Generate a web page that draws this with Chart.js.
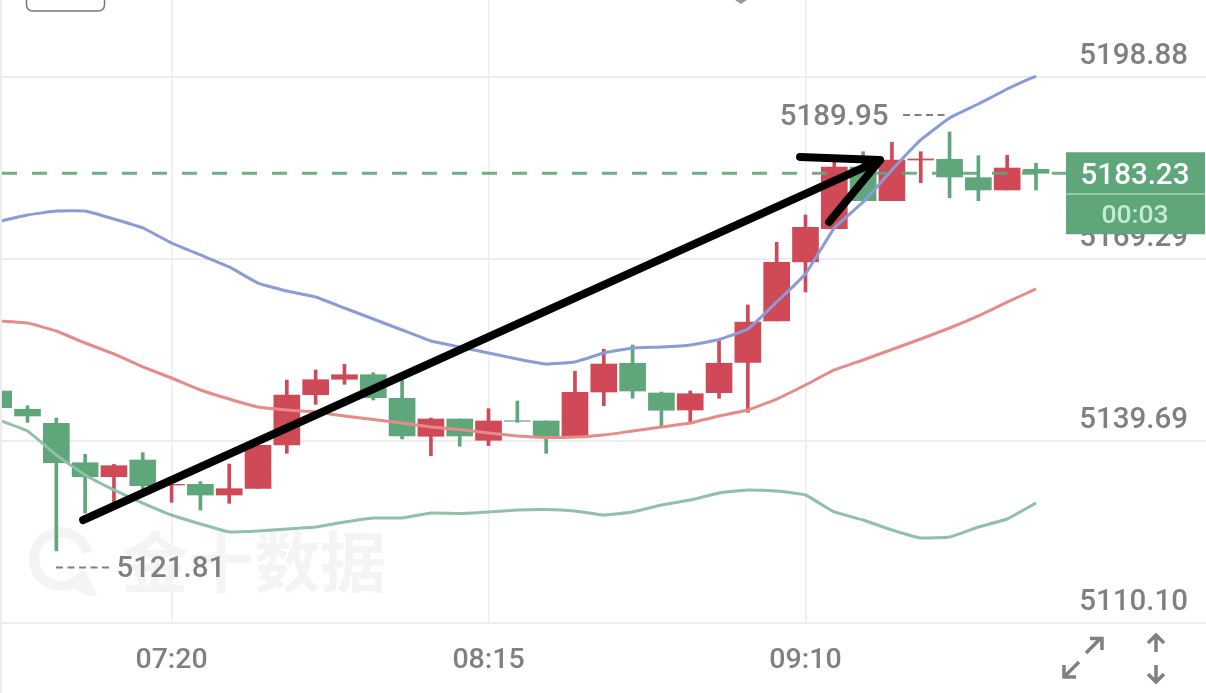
<!DOCTYPE html>
<html><head><meta charset="utf-8">
<style>html,body{margin:0;padding:0;background:#fff}canvas{display:block}</style>
<script src="https://cdn.jsdelivr.net/npm/chart.js@4"></script>
</head><body><canvas id="c" width="1206" height="693"></canvas>
<script>
const times=["06:50","06:55","07:00","07:05","07:10","07:15","07:20","07:25","07:30","07:35","07:40","07:45","07:50","07:55","08:00","08:05","08:10","08:15","08:20","08:25","08:30","08:35","08:40","08:45","08:50","08:55","09:00","09:05","09:10","09:15","09:20","09:25","09:30","09:35","09:40","09:45","09:50"];
const highs=[5147.82,5145.43,5143.43,5137.53,5135.91,5137.79,5133.35,5133.08,5135.95,5138.99,5149.61,5151.24,5152.16,5150.80,5149.61,5143.43,5143.27,5144.95,5146.20,5142.95,5151.03,5154.60,5155.30,5147.66,5147.82,5156.23,5161.81,5172.00,5176.44,5185.11,5186.73,5188.26,5186.73,5189.95,5186.08,5186.15,5184.85];
const lows=[5145.11,5142.73,5121.81,5127.99,5129.56,5131.73,5129.73,5128.47,5129.56,5132.00,5137.69,5145.66,5148.91,5146.36,5140.02,5137.30,5138.83,5138.93,5142.73,5137.69,5140.51,5145.43,5146.64,5142.02,5142.57,5146.64,5144.36,5159.21,5163.92,5174.21,5178.77,5178.77,5181.69,5179.25,5178.77,5180.51,5180.51];
const opens=[5147.82,5144.85,5142.57,5136.16,5133.89,5136.60,5132.54,5132.65,5130.91,5132.00,5139.04,5147.22,5149.73,5150.47,5146.64,5140.46,5143.27,5139.81,5142.99,5142.95,5140.51,5147.66,5152.33,5147.50,5144.73,5147.55,5152.49,5159.21,5168.80,5174.21,5184.25,5178.77,5185.38,5185.50,5182.51,5180.51,5183.87];
const closes=[5145.11,5143.76,5136.16,5133.89,5135.68,5132.43,5132.65,5130.91,5131.94,5138.99,5147.17,5149.66,5150.47,5146.73,5140.51,5143.27,5140.51,5142.95,5142.90,5140.29,5147.61,5152.21,5147.82,5144.69,5147.38,5152.33,5159.04,5168.75,5174.44,5184.25,5178.77,5185.38,5185.55,5182.62,5180.51,5184.08,5183.23];
const upperBand=[5175.38,5176.44,5177.09,5177.09,5175.79,5174.33,5171.89,5169.94,5167.99,5165.38,5164.08,5163.11,5161.32,5159.53,5157.74,5155.95,5154.98,5154.00,5153.03,5152.21,5152.54,5154.00,5154.82,5154.98,5155.30,5156.20,5157.90,5162.29,5166.85,5174.33,5178.55,5183.76,5188.64,5192.21,5194.49,5196.93,5199.04];
const middleBand=[5159.21,5158.88,5157.58,5155.63,5153.84,5151.73,5149.94,5147.99,5146.52,5145.22,5144.73,5144.41,5143.76,5143.19,5142.62,5141.97,5141.56,5140.99,5140.51,5140.26,5140.34,5140.67,5141.32,5141.97,5142.62,5143.76,5144.73,5146.52,5148.80,5151.24,5152.86,5154.57,5156.28,5158.07,5160.02,5162.29,5164.41];
const lowerBand=[5143.11,5141.32,5137.42,5134.16,5131.73,5129.61,5127.66,5126.20,5124.90,5125.06,5125.38,5125.71,5126.52,5127.17,5127.17,5127.99,5127.90,5128.15,5128.47,5128.56,5128.31,5127.66,5128.15,5129.29,5130.10,5131.24,5131.73,5131.56,5130.91,5128.15,5126.85,5125.22,5123.92,5124.08,5125.71,5127.01,5129.61];
const yTicks=[5110.10,5139.69,5169.29,5198.88];
const xTickIndex=[6,17,28];
const lastPrice=5183.23, countdown="00:03", maxLabel="5189.95", minLabel="5121.81", watermark="金十数据";
const arrowX=[2.93,30.59,27.81,30.59,28.82];
const arrowY=[5126.85,5185.38,5185.87,5185.38,5175.30];

const RED='#cf4a56',GREEN='#5fa67b',GREY='#808080',FONT='Roboto, sans-serif';
const idx=times.map((_,i)=>i);
const candleColor=idx.map(i=>closes[i]>=opens[i]?RED:GREEN);
const bandLine=(label,values,color)=>({type:'line',label,data:idx.map(i=>({x:i,y:values[i]})),borderColor:color,borderWidth:3,pointRadius:0,tension:0.1,order:2});
const zeroPad=s=>{s.paddingLeft=0;s.paddingRight=0;s.paddingTop=0;s.paddingBottom=0;};

const decor={id:'decor',
 beforeDatasetsDraw(ch){const c=ch.ctx;c.save();
  c.fillStyle='#f4f4f4';c.strokeStyle='#f4f4f4';
  c.lineWidth=10;c.beginPath();c.arc(61,559,27,0.15*Math.PI,1.9*Math.PI*1.0+0.1);c.stroke();
  c.beginPath();c.moveTo(68,582);c.quadraticCurveTo(88,568,86,574);c.lineTo(98,596);c.quadraticCurveTo(80,596,68,582);c.fill();
  c.font='bold 66px "Noto Sans CJK SC"';c.textAlign='left';c.textBaseline='middle';c.fillStyle='#f4f4f4';
  c.fillText(watermark,122,562);
  c.restore();},
 afterDraw(ch){const c=ch.ctx,y=ch.scales.y;c.save();
  c.fillStyle='#eeeeee';c.fillRect(0,0,2,693);
  c.strokeStyle='#777';c.lineWidth=1.5;c.beginPath();c.roundRect(26.5,-20,78,31,6);c.stroke();
  c.fillStyle='#999';c.beginPath();c.moveTo(735,0);c.lineTo(747,0);c.lineTo(741,4);c.fill();
  c.font='500 29.5px '+FONT;c.fillStyle=GREY;c.textBaseline='middle';
  c.textAlign='left';c.fillText(minLabel,116.5,570);
  c.textAlign='right';c.fillText(maxLabel,888.5,118);
  c.strokeStyle=GREY;c.lineWidth=2;c.setLineDash([7,4.5]);
  c.beginPath();c.moveTo(56,567.5);c.lineTo(111,567.5);c.moveTo(903,115);c.lineTo(945,115);c.stroke();c.setLineDash([]);
  const py=y.getPixelForValue(lastPrice);
  c.fillStyle=GREEN;c.fillRect(1066,py-21,139,82);
  c.fillStyle='#a9d6b8';c.fillRect(1066,py+20,139,1.5);
  c.textAlign='center';c.fillStyle='#ffffff';c.font='500 29.5px '+FONT;c.fillText(lastPrice.toFixed(2),1135,py+3);
  c.fillStyle='#c4ebd0';c.font='500 26.5px '+FONT;c.fillText(countdown,1135,216);
  c.strokeStyle=GREY;c.lineWidth=3.5;c.lineCap='butt';c.lineJoin='miter';c.beginPath();
  c.moveTo(1086,653);c.lineTo(1101,638);c.moveTo(1090,638.5);c.lineTo(1102,638.5);c.lineTo(1102,650);
  c.moveTo(1079,662);c.lineTo(1064,677);c.moveTo(1064,665);c.lineTo(1064,677);c.lineTo(1076,677);
  c.moveTo(1156,652);c.lineTo(1156,636);c.moveTo(1148,643);c.lineTo(1156,635);c.lineTo(1164,643);
  c.moveTo(1156,665);c.lineTo(1156,681);c.moveTo(1148,674);c.lineTo(1156,682);c.lineTo(1164,674);
  c.stroke();
  c.restore();}
};

new Chart(document.getElementById('c'),{
 data:{datasets:[
  {type:'bar',label:'wick',data:idx.map(i=>({x:i,y:[lows[i],highs[i]]})),backgroundColor:candleColor,maxBarThickness:3,barPercentage:1,categoryPercentage:1,grouped:false,order:5},
  {type:'bar',label:'body',data:idx.map(i=>({x:i,y:[opens[i],closes[i]]})),backgroundColor:candleColor,maxBarThickness:26,barPercentage:1,categoryPercentage:1,grouped:false,order:4},
  bandLine('upper',upperBand,'#8b9bd8'),
  bandLine('middle',middleBand,'#e68c88'),
  bandLine('lower',lowerBand,'#90c0a6'),
  {type:'line',label:'last',data:[{x:0.1145,y:lastPrice},{x:37.04,y:lastPrice}],borderColor:'rgba(95,166,123,0.9)',borderWidth:3,borderDash:[15,15],pointRadius:0,order:3},
  {type:'line',label:'arrow',data:arrowX.map((x,i)=>({x,y:arrowY[i]})),borderColor:'#000',borderWidth:8,borderCapStyle:'round',borderJoinStyle:'round',pointRadius:0,tension:0,order:1}
 ]},
 options:{responsive:false,animation:false,devicePixelRatio:1,
  layout:{padding:{left:2,right:0,top:0,bottom:0}},
  plugins:{legend:{display:false},tooltip:{enabled:false}},
  scales:{
   x:{type:'linear',offset:false,min:0.1145,max:41.9,
    afterBuildTicks(s){s.ticks=xTickIndex.map(v=>({value:v}));},
    afterFit(s){s.height=70;zeroPad(s);},
    grid:{color:'#eeeeee',lineWidth:1.5,drawTicks:false,offset:false},border:{display:false},
    ticks:{autoSkip:false,maxRotation:0,padding:21,color:GREY,font:{family:FONT,size:28.5,weight:'500'},callback:v=>times[v]}},
   y:{position:'right',min:5110.10,max:5211.40,
    afterBuildTicks(s){s.ticks=yTicks.map(v=>({value:v}));},
    afterFit(s){s.width=0;zeroPad(s);},
    grid:{color:'#eeeeee',lineWidth:2,drawTicks:false},border:{display:false},
    ticks:{mirror:true,padding:-18,labelOffset:-20,color:GREY,font:{family:FONT,size:29.5,weight:'500'},callback:v=>v.toFixed(2)}}
  }},
 plugins:[decor]
});
</script></body></html>
